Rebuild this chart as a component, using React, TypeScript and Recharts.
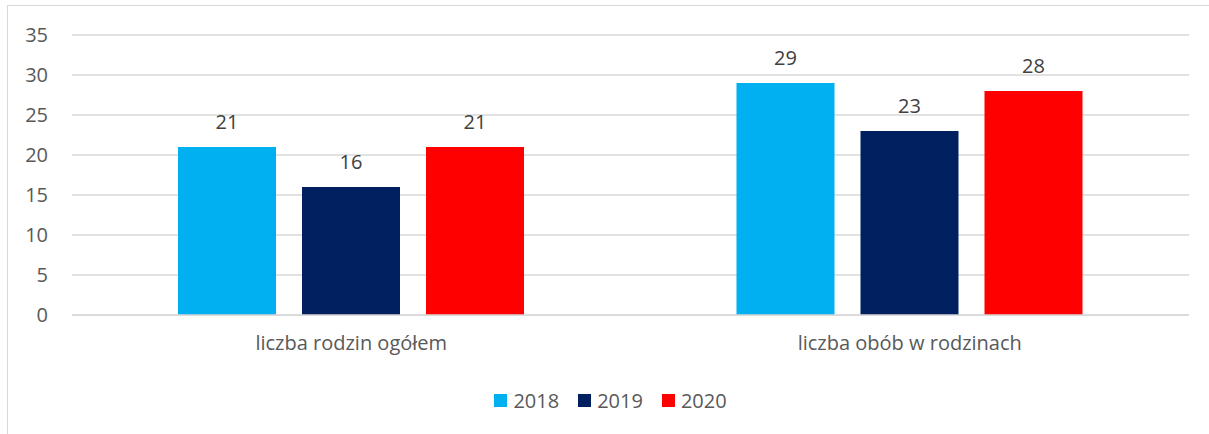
import { BarChart, Bar, XAxis, YAxis, CartesianGrid, LabelList } from 'recharts';

// 카테고리 / 시리즈 값
const categories = ['liczba rodzin ogółem', 'liczba obób w rodzinach'];
const years = ['2018', '2019', '2020'];
const v2018 = [21, 29];
const v2019 = [16, 23];
const v2020 = [21, 28];
const yTicks = [0, 5, 10, 15, 20, 25, 30, 35];

const COLORS: Record<string, string> = {
    '2018': '#00B0F0',
    '2019': '#002060',
    '2020': '#FF0000',
};

const FONT = '"Open Sans", Lato, "Liberation Sans", sans-serif';

const data = categories.map((name, i) => ({
    name,
    '2018': v2018[i],
    '2019': v2019[i],
    '2020': v2020[i],
}));

// 범례 — 차트 아래 중앙
function LegendBox() {
    return (
        <div style={{ position: 'absolute', top: 387, left: 0, width: 1209, display: 'flex', justifyContent: 'center', alignItems: 'center', fontFamily: FONT, fontSize: 20, color: '#595959', paddingLeft: 6 }}>
            {years.map((y, i) => (
                <div key={y} style={{ display: 'flex', alignItems: 'center', marginLeft: i === 0 ? 0 : 19 }}>
                    <span style={{ width: 13, height: 13, background: COLORS[y], display: 'inline-block', marginRight: 6 }} />
                    <span>{y}</span>
                </div>
            ))}
        </div>
    );
}

export default function App() {
    return (
        <div style={{ position: 'absolute', left: 0, top: 0, width: 1209, height: 434, background: '#fff', overflow: 'hidden' }}>
            {/* 바깥 테두리 */}
            <div style={{ position: 'absolute', left: 7, top: 5, width: 1210, height: 440, border: '1px solid #d9d9d9' }} />
            <BarChart
                width={1209}
                height={434}
                data={data}
                margin={{ top: 35, right: 20, left: 0, bottom: 89 }}
                barSize={98}
                barGap={26}
                style={{ position: 'absolute', left: 0, top: 0 }}
            >
                <CartesianGrid vertical={false} stroke="#d9d9d9" strokeWidth={1.5} />
                <XAxis
                    dataKey="name"
                    height={30}
                    axisLine={{ stroke: '#d9d9d9', strokeWidth: 1.5 }}
                    tickLine={false}
                    tickSize={0}
                    tickMargin={21}
                    tick={{ fontSize: 20, fill: '#595959', fontFamily: FONT }}
                />
                <YAxis
                    width={72}
                    domain={[0, 35]}
                    ticks={yTicks}
                    axisLine={false}
                    tickLine={false}
                    tickSize={0}
                    tickMargin={24}
                    tick={{ fontSize: 20, fill: '#595959', fontFamily: FONT }}
                />
                {years.map(y => (
                    <Bar key={y} dataKey={y} name={y} fill={COLORS[y]} isAnimationActive={false}>
                        <LabelList
                            dataKey={y}
                            position="top"
                            offset={18}
                            style={{ fontSize: 20, fill: '#404040', fontFamily: FONT }}
                        />
                    </Bar>
                ))}
            </BarChart>
            <LegendBox />
        </div>
    );
}
